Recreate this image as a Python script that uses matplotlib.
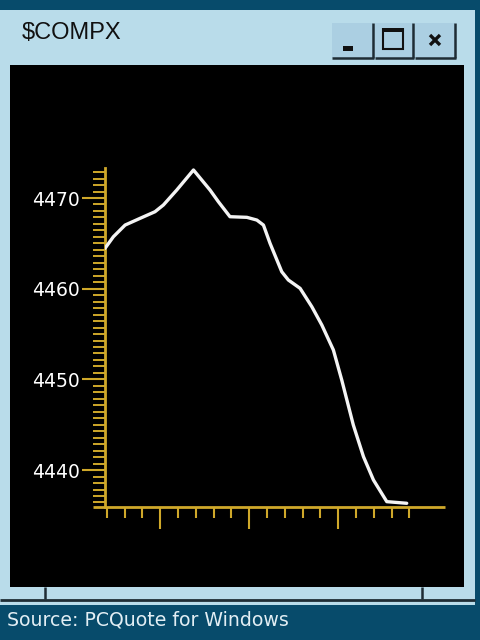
import numpy as np
import matplotlib
matplotlib.use("Agg")
import matplotlib.pyplot as plt
from matplotlib.patches import Rectangle
from matplotlib.lines import Line2D

# ---- data (x in tick intervals along the time axis, y index level) ----
time_pos = [-0.10, 0.37, 1.03, 1.87, 2.71, 3.18, 3.93, 4.87, 5.80, 6.27, 6.92,
            7.87, 8.43, 8.80, 9.17, 9.83, 10.20, 10.86, 11.52, 12.08, 12.73,
            13.20, 13.85, 14.42, 14.98, 15.73, 16.85]
compx = [4464.45, 4465.73, 4467.02, 4467.76, 4468.49, 4469.23, 4470.88, 4473.09,
         4470.88, 4469.59, 4467.94, 4467.87, 4467.57, 4467.02, 4465.01, 4461.87,
         4460.96, 4460.04, 4458.01, 4456.00, 4453.24, 4449.93, 4444.97, 4441.48,
         4438.91, 4436.52, 4436.34]
y_major = [4440, 4450, 4460, 4470]
y_labels = ["4440", "4450", "4460", "4470"]
x_ticks = list(range(0, 18))
x_major = [3, 8, 13]
title = "$COMPX"
source = "Source: PCQuote for Windows"

W, H = 480, 640
DARK = "#074b6b"
LIGHT = "#b9dcea"
BTN = "#abcfe2"
SHADOW = "#1e2c34"
YEL = "#cfa82a"

fig = plt.figure(figsize=(W / 100, H / 100), dpi=100)
fig.patch.set_facecolor(DARK)


def rect(x0, y0, x1, y1, color, z=-10):
    fig.add_artist(Rectangle((x0 / W, 1 - y1 / H), (x1 - x0) / W, (y1 - y0) / H,
                             transform=fig.transFigure, facecolor=color,
                             edgecolor="none", lw=0, zorder=z))


def line(x0, y0, x1, y1, color, lw, z=-5):
    fig.add_artist(Line2D([x0 / W, x1 / W], [1 - y0 / H, 1 - y1 / H],
                          transform=fig.transFigure, color=color, lw=lw,
                          zorder=z, solid_capstyle="butt"))


# window panel
rect(0, 10, 475, 605, LIGHT)
rect(10, 65, 464, 587, "#000000", z=-9)
# bottom frame lines
line(0, 599.5, 475, 599.5, SHADOW, 2.0)
line(45, 587, 45, 599, SHADOW, 1.8)
line(422, 587, 422, 599, SHADOW, 1.8)

# window buttons
for bx0, bx1 in [(332, 373), (375, 413), (415, 455)]:
    rect(bx0, 23, bx1, 58, BTN, z=-8)
    line(bx0, 58, bx1 + 1, 58, SHADOW, 1.8, z=-4)
    line(bx1, 23, bx1, 58, SHADOW, 1.8, z=-4)
# minimize glyph
rect(343, 46, 353, 51, "#111111", z=-3)
# maximize glyph
rect(382, 28, 404, 32, "#111111", z=-3)
line(382.8, 28, 382.8, 50, "#111111", 1.5, z=-3)
line(403.2, 28, 403.2, 50, "#111111", 1.5, z=-3)
line(382, 49.3, 404, 49.3, "#111111", 1.5, z=-3)
# close glyph
line(430, 35, 440, 45, "#111111", 2.4, z=-3)
line(430, 45, 440, 35, "#111111", 2.4, z=-3)

fig.text(22 / W, 1 - 33 / H, title, fontsize=17, color="#111111",
         family="Liberation Sans", va="center", ha="left")
fig.text(7 / W, 1 - 620 / H, source, fontsize=13.6, color="#e2eef4",
         family="DejaVu Sans", va="center", ha="left")

# ---- chart axes ----
ax_l, ax_r, ax_t, ax_b = 105, 445, 168, 507
ax = fig.add_axes([ax_l / W, 1 - ax_b / H, (ax_r - ax_l) / W, (ax_b - ax_t) / H])
ax.set_zorder(10)
ax.patch.set_alpha(0)

ax.plot(time_pos, compx, color="#f4f4f4", lw=2.4, solid_capstyle="round",
        solid_joinstyle="round", zorder=3)

ax.set_xlim(-0.10, 19.0)
ax.set_ylim(4435.93, 4473.31)

for s in ["top", "right", "bottom"]:
    ax.spines[s].set_visible(False)
ax.spines["left"].set_color(YEL)
ax.spines["left"].set_linewidth(2.0)
# x axis line (extends a little left of the y axis)
ax.plot([-12 / (ax_r - ax_l), 1], [0, 0], transform=ax.transAxes,
        color=YEL, lw=2.0, clip_on=False, zorder=2, solid_capstyle="butt")

ax.set_yticks(y_major)
ax.set_yticklabels(y_labels)
minor_step = 10 / 14
y_minor = np.concatenate([np.arange(4470, 4435.9, -minor_step),
                          np.arange(4470, 4473.3, minor_step)])
ax.set_yticks(sorted(set(np.round(y_minor, 4))), minor=True)
ax.tick_params(axis="y", which="major", length=16.5, width=1.5, color=YEL,
               labelcolor="white", labelsize=13.5, pad=1.5)
ax.tick_params(axis="y", which="minor", length=8.6, width=1.4, color=YEL)
for lab in ax.get_yticklabels():
    lab.set_family("DejaVu Sans")

ax.set_xticks(x_major)
ax.set_xticklabels([])
ax.set_xticks([t for t in x_ticks if t not in x_major], minor=True)
ax.tick_params(axis="x", which="major", length=15.5, width=1.5, color=YEL)
ax.tick_params(axis="x", which="minor", length=7.8, width=1.5, color=YEL)

fig.savefig("out.png", dpi=100, facecolor=fig.get_facecolor())
